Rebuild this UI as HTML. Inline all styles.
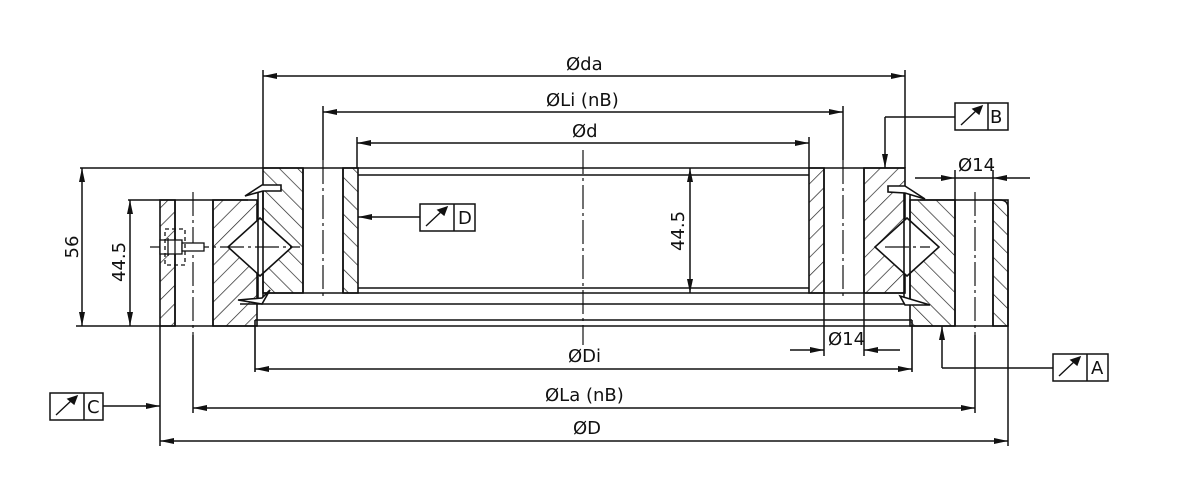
<!DOCTYPE html>
<html><head><meta charset="utf-8"><style>
html,body{margin:0;padding:0;background:#fff;}
svg{display:block}
text{font-family:"DejaVu Sans","Liberation Sans",sans-serif;font-size:18px;fill:#111}
</style></head><body>
<svg width="1200" height="500" viewBox="0 0 1200 500" xmlns="http://www.w3.org/2000/svg">
<defs>
<pattern id="hA" width="13" height="13" patternUnits="userSpaceOnUse" patternTransform="rotate(45)"><line x1="0" y1="0" x2="0" y2="13" stroke="#222" stroke-width="1.4"/></pattern>
<pattern id="hB" width="13" height="13" patternUnits="userSpaceOnUse" patternTransform="rotate(-45)"><line x1="0" y1="0" x2="0" y2="13" stroke="#222" stroke-width="1.4"/></pattern>
<marker id="ar" markerWidth="14" markerHeight="8" refX="14" refY="4" orient="auto" markerUnits="userSpaceOnUse"><path d="M0,1 L14,4 L0,7 Z" fill="#111"/></marker>
<marker id="as" markerWidth="14" markerHeight="8" refX="0" refY="4" orient="auto" markerUnits="userSpaceOnUse"><path d="M14,1 L0,4 L14,7 Z" fill="#111"/></marker>
</defs>
<g stroke="#111" stroke-width="1.6" fill="none">
<rect x="160" y="200" width="15" height="126" fill="url(#hA)"/>
<rect x="213" y="200" width="44" height="126" fill="url(#hA)"/>
<rect x="263" y="168" width="40" height="125" fill="url(#hB)"/>
<rect x="343" y="168" width="15" height="125" fill="url(#hB)"/>
<rect x="809" y="168" width="15" height="125" fill="url(#hA)"/>
<rect x="864" y="168" width="41" height="125" fill="url(#hA)"/>
<rect x="910" y="200" width="45" height="126" fill="url(#hB)"/>
<rect x="993" y="200" width="15" height="126" fill="url(#hB)"/>
<line x1="80" y1="168" x2="905" y2="168"/>
<line x1="358" y1="175" x2="809" y2="175"/>
<line x1="358" y1="288" x2="809" y2="288"/>
<line x1="263" y1="293" x2="905" y2="293"/>
<line x1="240" y1="304" x2="925" y2="304"/>
<line x1="255" y1="320" x2="912" y2="320"/>
<line x1="128" y1="326" x2="255" y2="326"/>
<line x1="255" y1="326" x2="912" y2="326"/>
<line x1="912" y1="326" x2="1008" y2="326"/>
<line x1="128" y1="200" x2="248" y2="200"/>
<line x1="920" y1="200" x2="1000" y2="200"/>
<path d="M1000,200 Q1008,200 1008,208 L1008,326"/>
<line x1="255" y1="320" x2="255" y2="372"/>
<line x1="912" y1="320" x2="912" y2="372"/>
<polygon points="260,218 292,247 260,276 228,247" fill="#fff"/>
<polygon points="907,218 939,247 907,276 875,247" fill="#fff"/>
<line x1="258" y1="190" x2="258" y2="300"/><line x1="263" y1="190" x2="263" y2="300"/>
<line x1="904" y1="190" x2="904" y2="300"/><line x1="910" y1="190" x2="910" y2="300"/>
<path d="M245,196 L262,185 L281,185 L281,191 L263,191 Z" fill="#fff"/>
<path d="M238,300 L262,298 L270,290 L262,304 Z" fill="#fff"/>
<path d="M888,186 L905,186 L925,199 L905,193 L888,192 Z" fill="#fff"/>
<path d="M900,296 L920,302 L930,305 L905,305 Z" fill="#fff"/>
<line x1="175" y1="200" x2="175" y2="326"/><line x1="213" y1="200" x2="213" y2="326"/>
<line x1="303" y1="168" x2="303" y2="293"/><line x1="343" y1="168" x2="343" y2="293"/>
<line x1="824" y1="168" x2="824" y2="293"/><line x1="864" y1="168" x2="864" y2="293"/>
<line x1="955" y1="200" x2="955" y2="326"/><line x1="993" y1="200" x2="993" y2="326"/>
</g>
<g stroke="#111" stroke-width="1.2" stroke-dasharray="24,4,3,4" fill="none">
<line x1="583" y1="150" x2="583" y2="345"/>
<line x1="323" y1="160" x2="323" y2="300"/>
<line x1="843" y1="160" x2="843" y2="300"/>
<line x1="193" y1="192" x2="193" y2="335"/>
<line x1="975" y1="192" x2="975" y2="335"/>
<line x1="150" y1="247" x2="300" y2="247"/>
<line x1="885" y1="247" x2="930" y2="247"/>
</g>
<g stroke="#111" stroke-width="1.3" fill="#fff">
<rect x="160" y="240" width="22" height="14"/>
<rect x="182" y="243" width="22" height="8"/>
<line x1="168" y1="238" x2="168" y2="256"/><line x1="175" y1="238" x2="175" y2="256"/>
<rect x="165" y="229" width="20" height="36" fill="none" stroke-dasharray="4,3"/>
</g>
<g stroke="#111" stroke-width="1.5" fill="none">
<line x1="263" y1="168" x2="263" y2="70"/><line x1="905" y1="168" x2="905" y2="70"/>
<line x1="263" y1="76" x2="905" y2="76" marker-start="url(#as)" marker-end="url(#ar)"/>
<line x1="323" y1="160" x2="323" y2="106"/><line x1="843" y1="160" x2="843" y2="106"/>
<line x1="323" y1="112" x2="843" y2="112" marker-start="url(#as)" marker-end="url(#ar)"/>
<line x1="357" y1="168" x2="357" y2="137"/><line x1="809" y1="168" x2="809" y2="137"/>
<line x1="357" y1="143" x2="809" y2="143" marker-start="url(#as)" marker-end="url(#ar)"/>
<line x1="255" y1="369" x2="912" y2="369" marker-start="url(#as)" marker-end="url(#ar)"/>
<line x1="193" y1="335" x2="193" y2="413"/><line x1="975" y1="335" x2="975" y2="413"/>
<line x1="193" y1="408" x2="975" y2="408" marker-start="url(#as)" marker-end="url(#ar)"/>
<line x1="160" y1="326" x2="160" y2="446"/><line x1="1008" y1="326" x2="1008" y2="446"/>
<line x1="160" y1="441" x2="1008" y2="441" marker-start="url(#as)" marker-end="url(#ar)"/>
<line x1="82" y1="168" x2="82" y2="326" marker-start="url(#as)" marker-end="url(#ar)"/>
<line x1="76" y1="326" x2="128" y2="326"/>
<line x1="130" y1="200" x2="130" y2="326" marker-start="url(#as)" marker-end="url(#ar)"/>
<line x1="690" y1="168" x2="690" y2="293" marker-start="url(#as)" marker-end="url(#ar)"/>
<line x1="955" y1="170" x2="955" y2="200"/><line x1="993" y1="170" x2="993" y2="200"/>
<line x1="915" y1="178" x2="955" y2="178" marker-end="url(#ar)"/>
<line x1="955" y1="178" x2="993" y2="178"/>
<line x1="1030" y1="178" x2="993" y2="178" marker-end="url(#ar)"/>
<line x1="824" y1="293" x2="824" y2="356"/><line x1="864" y1="293" x2="864" y2="356"/>
<line x1="790" y1="350" x2="824" y2="350" marker-end="url(#ar)"/>
<line x1="900" y1="350" x2="864" y2="350" marker-end="url(#ar)"/>
<line x1="955" y1="117" x2="885" y2="117"/><line x1="885" y1="117" x2="885" y2="168" marker-end="url(#ar)"/>
<line x1="1053" y1="368" x2="942" y2="368"/><line x1="942" y1="368" x2="942" y2="326" marker-end="url(#ar)"/>
<line x1="103" y1="406" x2="160" y2="406" marker-end="url(#ar)"/>
<line x1="420" y1="217" x2="358" y2="217" marker-end="url(#ar)"/>
<rect x="955" y="103" width="53" height="27"/><line x1="988" y1="103" x2="988" y2="130"/>
<rect x="1053" y="354" width="55" height="27"/><line x1="1087" y1="354" x2="1087" y2="381"/>
<rect x="50" y="393" width="53" height="27"/><line x1="84" y1="393" x2="84" y2="420"/>
<rect x="420" y="204" width="55" height="27"/><line x1="454" y1="204" x2="454" y2="231"/>
</g>
<g stroke="#111" stroke-width="1.4" fill="#111">
<line x1="961" y1="125" x2="978" y2="109"/><path d="M982,106 L973,109 L979,114 Z"/>
<line x1="1059" y1="376" x2="1076" y2="360"/><path d="M1080,357 L1071,360 L1077,365 Z"/>
<line x1="56" y1="415" x2="73" y2="399"/><path d="M77,396 L68,399 L74,404 Z"/>
<line x1="426" y1="226" x2="443" y2="210"/><path d="M447,207 L438,210 L444,215 Z"/>
</g>
<text x="990" y="123">B</text>
<text x="1091" y="374">A</text>
<text x="87" y="413">C</text>
<text x="458" y="224">D</text>
<text x="566" y="70">Øda</text>
<text x="546" y="106">ØLi (nB)</text>
<text x="572" y="137">Ød</text>
<text x="568" y="362">ØDi</text>
<text x="545" y="401">ØLa (nB)</text>
<text x="573" y="434">ØD</text>
<text x="958" y="171">Ø14</text>
<text x="828" y="345">Ø14</text>
<text transform="translate(78,247) rotate(-90)" text-anchor="middle">56</text>
<text transform="translate(125,262) rotate(-90)" text-anchor="middle">44.5</text>
<text transform="translate(684,231) rotate(-90)" text-anchor="middle">44.5</text>
</svg>
</body></html>
